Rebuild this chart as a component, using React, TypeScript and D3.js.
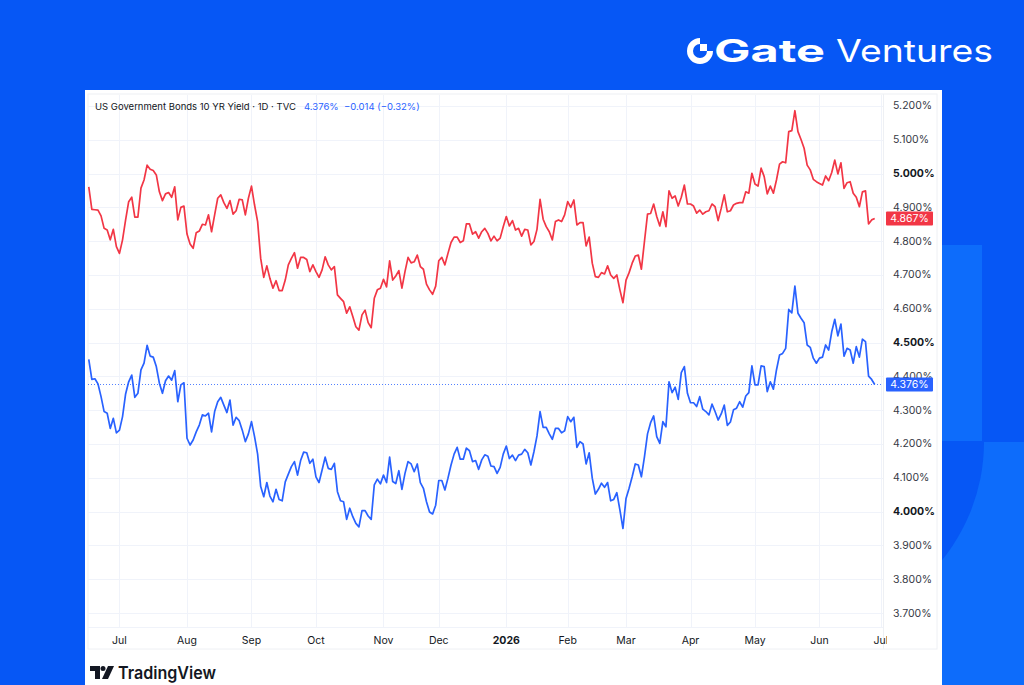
import { useEffect } from "react";
import * as d3 from "d3";

// daily closes, one value per trading session (first session ~ late Jun 2025)
const yield30y = [
  4.961, 4.894, 4.893, 4.892, 4.875, 4.838, 4.833, 4.804, 4.835, 4.784,
  4.764, 4.804, 4.863, 4.917, 4.93, 4.871, 4.871, 4.957, 4.981, 5.025,
  5.013, 5.009, 4.996, 4.946, 4.92, 4.94, 4.944, 4.93, 4.961, 4.863,
  4.9, 4.904, 4.821, 4.792, 4.779, 4.825, 4.83, 4.85, 4.848, 4.878,
  4.828, 4.878, 4.927, 4.937, 4.914, 4.897, 4.92, 4.88, 4.89, 4.924,
  4.922, 4.878, 4.927, 4.963, 4.907, 4.858, 4.749, 4.693, 4.727, 4.69,
  4.661, 4.683, 4.654, 4.654, 4.685, 4.73, 4.749, 4.766, 4.72, 4.752,
  4.752, 4.746, 4.71, 4.73, 4.71, 4.693, 4.715, 4.754, 4.73, 4.715,
  4.725, 4.641, 4.631, 4.621, 4.587, 4.606, 4.577, 4.547, 4.537, 4.582,
  4.596, 4.559, 4.544, 4.631, 4.656, 4.661, 4.687, 4.665, 4.742, 4.685,
  4.697, 4.713, 4.661, 4.71, 4.752, 4.736, 4.739, 4.759, 4.725, 4.717,
  4.673, 4.656, 4.643, 4.667, 4.742, 4.752, 4.73, 4.764, 4.796, 4.812,
  4.812, 4.796, 4.801, 4.851, 4.851, 4.821, 4.828, 4.809, 4.828, 4.838,
  4.823, 4.801, 4.815, 4.801, 4.809, 4.843, 4.873, 4.845, 4.861, 4.833,
  4.838, 4.815, 4.835, 4.833, 4.789, 4.799, 4.835, 4.924, 4.865, 4.843,
  4.828, 4.804, 4.858, 4.863, 4.858, 4.878, 4.917, 4.9, 4.922, 4.848,
  4.855, 4.855, 4.786, 4.812, 4.735, 4.695, 4.693, 4.707, 4.703, 4.727,
  4.7, 4.69, 4.7, 4.656, 4.618, 4.685, 4.707, 4.735, 4.756, 4.759,
  4.717, 4.799, 4.88, 4.882, 4.91, 4.873, 4.845, 4.887, 4.843, 4.949,
  4.927, 4.934, 4.904, 4.93, 4.966, 4.91, 4.91, 4.904, 4.883, 4.892,
  4.88, 4.887, 4.89, 4.91, 4.902, 4.861, 4.897, 4.937, 4.887, 4.89,
  4.907, 4.912, 4.914, 4.914, 4.946, 4.942, 5.001, 4.969, 4.963, 5.016,
  4.991, 4.94, 4.963, 4.942, 4.981, 5.028, 5.035, 5.032, 5.124, 5.127,
  5.186, 5.124, 5.101, 5.075, 5.025, 5.011, 4.983, 4.976, 4.971, 4.966,
  4.993, 4.979, 5.003, 5.04, 4.999, 5.032, 4.956, 4.973, 4.976, 4.942,
  4.93, 4.902, 4.946, 4.949, 4.851, 4.863, 4.867,
];

const yield10y = [
  4.45, 4.391, 4.393, 4.378, 4.34, 4.296, 4.291, 4.246, 4.276, 4.233,
  4.241, 4.281, 4.348, 4.384, 4.404, 4.338, 4.35, 4.419, 4.439, 4.492,
  4.46, 4.457, 4.429, 4.38, 4.35, 4.387, 4.401, 4.389, 4.417, 4.325,
  4.375, 4.381, 4.217, 4.197, 4.212, 4.236, 4.256, 4.286, 4.283, 4.291,
  4.236, 4.296, 4.325, 4.338, 4.315, 4.293, 4.33, 4.256, 4.279, 4.269,
  4.241, 4.207, 4.23, 4.266, 4.222, 4.17, 4.074, 4.044, 4.086, 4.046,
  4.029, 4.066, 4.036, 4.032, 4.088, 4.111, 4.133, 4.148, 4.108, 4.151,
  4.176, 4.174, 4.143, 4.155, 4.103, 4.086, 4.123, 4.161, 4.128, 4.125,
  4.143, 4.059, 4.032, 4.029, 3.977, 4.01, 3.985, 3.965, 3.955, 4.003,
  4.003, 3.987, 3.977, 4.079, 4.096, 4.082, 4.108, 4.086, 4.161, 4.089,
  4.083, 4.121, 4.066, 4.113, 4.148, 4.141, 4.118, 4.141, 4.086, 4.069,
  4.029, 3.999, 3.993, 4.019, 4.092, 4.092, 4.064, 4.099, 4.138, 4.17,
  4.19, 4.155, 4.155, 4.188, 4.18, 4.148, 4.151, 4.125, 4.153, 4.168,
  4.164, 4.135, 4.133, 4.113, 4.131, 4.17, 4.194, 4.157, 4.167, 4.151,
  4.167, 4.17, 4.184, 4.174, 4.138, 4.177, 4.224, 4.296, 4.249, 4.249,
  4.23, 4.214, 4.246, 4.246, 4.233, 4.239, 4.281, 4.266, 4.279, 4.19,
  4.207, 4.2, 4.141, 4.174, 4.099, 4.052, 4.066, 4.084, 4.072, 4.086,
  4.032, 4.036, 4.056, 4.005, 3.95, 4.039, 4.069, 4.103, 4.141, 4.138,
  4.103, 4.162, 4.23, 4.263, 4.283, 4.222, 4.202, 4.266, 4.251, 4.384,
  4.352, 4.368, 4.332, 4.411, 4.429, 4.35, 4.322, 4.322, 4.311, 4.34,
  4.303, 4.296, 4.286, 4.318, 4.296, 4.271, 4.289, 4.315, 4.255, 4.265,
  4.301, 4.306, 4.325, 4.309, 4.342, 4.352, 4.431, 4.375, 4.375, 4.431,
  4.429, 4.355, 4.384, 4.362, 4.419, 4.463, 4.468, 4.483, 4.598, 4.588,
  4.667, 4.587, 4.572, 4.559, 4.493, 4.486, 4.454, 4.439, 4.454, 4.457,
  4.493, 4.478, 4.532, 4.569, 4.52, 4.555, 4.46, 4.483, 4.478, 4.439,
  4.488, 4.457, 4.51, 4.503, 4.401, 4.391, 4.376,
];

// first session of each month (session index)
const monthTicks = [
  { label: "Jul", i: 10 },
  { label: "Aug", i: 32 },
  { label: "Sep", i: 53 },
  { label: "Oct", i: 74 },
  { label: "Nov", i: 96 },
  { label: "Dec", i: 114 },
  { label: "2026", i: 136, bold: true },
  { label: "Feb", i: 156 },
  { label: "Mar", i: 175 },
  { label: "Apr", i: 196 },
  { label: "May", i: 217 },
  { label: "Jun", i: 238 },
  { label: "Jul", i: 258 },
];

const yTicks = [3.7, 3.8, 3.9, 4.0, 4.1, 4.2, 4.3, 4.4, 4.5, 4.6, 4.7, 4.8, 4.9, 5.0, 5.1, 5.2];
const boldTicks = [4.0, 4.5, 5.0];

const title = "US Government Bonds 10 YR Yield · 1D · TVC";
const lastPrice = "4.376%";
const lastChange = "−0.014 (−0.32%)";

const RED = "#f23645";
const BLUE = "#2962ff";
const BG = "#0657f5";
const BG_LIGHT = "#0d6cfb";
const FONT = "Inter, 'Noto Sans', sans-serif";

export default function App() {
  useEffect(() => {
    document.body.style.margin = "0";
    document.body.style.overflow = "hidden";
  }, []);

  const plot = { left: 88, right: 883, top: 95, bottom: 627 };
  const x = d3.scaleLinear().domain([-0.25, 258.7]).range([plot.left, plot.right]);
  const y = d3.scaleLinear().domain([3.6586, 5.2325]).range([plot.bottom, plot.top]);

  const line = d3
    .line<number>()
    .x((_, i) => x(i))
    .y((d) => y(d));

  const last30 = yield30y[yield30y.length - 1];
  const last10 = yield10y[yield10y.length - 1];

  return (
    <svg width={1024} height={685} style={{ position: "absolute", left: 0, top: 0, display: "block" }}>
      <defs>
        <clipPath id="plotClip">
          <rect x={plot.left} y={plot.top} width={plot.right - plot.left} height={plot.bottom - plot.top} />
        </clipPath>
        <clipPath id="axisClip">
          <rect x={plot.left} y={plot.bottom} width={plot.right - plot.left + 4} height={30} />
        </clipPath>
        <clipPath id="decoClip">
          <rect x={900} y={442} width={124} height={243} />
        </clipPath>
      </defs>

      {/* background */}
      <rect width={1024} height={685} fill={BG} />
      <rect x={942} y={245} width={40} height={196} fill={BG_LIGHT} />
      <rect x={942} y={442} width={82} height={243} fill={BG_LIGHT} />
      <circle cx={797} cy={442} r={187} fill={BG} clipPath="url(#decoClip)" />

      {/* Gate Ventures logo */}
      <g fill="#fff">
        <path d="M713,51 A13,13 0 1 1 700,38 L700,44 A7,7 0 1 0 707,51 Z" />
        <rect x={700} y={44} width={7} height={7} />
        <text x={714} y={62} fontFamily={FONT} fontWeight={700} fontSize={31} textLength={111} lengthAdjust="spacingAndGlyphs">
          Gate
        </text>
        <text x={836} y={62} fontFamily={FONT} fontWeight={400} fontSize={31} textLength={157} lengthAdjust="spacingAndGlyphs">
          Ventures
        </text>
      </g>

      {/* panel */}
      <rect x={85} y={90} width={857} height={595} fill="#fff" />
      <rect x={plot.left} y={94} width={849} height={555} fill="none" stroke="#eef0f4" strokeWidth={1} />

      {/* grid */}
      <g stroke="#f0f3fa" strokeWidth={1}>
        {yTicks.map((t) => (
          <line key={t} x1={plot.left} x2={plot.right} y1={Math.round(y(t)) + 0.5} y2={Math.round(y(t)) + 0.5} />
        ))}
        {monthTicks.map((m) => (
          <line key={m.label + m.i} x1={Math.round(x(m.i)) + 0.5} x2={Math.round(x(m.i)) + 0.5} y1={plot.top} y2={plot.bottom} />
        ))}
      </g>
      <line x1={plot.right + 0.5} x2={plot.right + 0.5} y1={94} y2={649} stroke="#eef0f4" />
      <line x1={plot.left} x2={plot.right} y1={plot.bottom + 0.5} y2={plot.bottom + 0.5} stroke="#f0f3fa" />

      {/* last price line */}
      <line
        x1={plot.left}
        x2={plot.right}
        y1={y(last10)}
        y2={y(last10)}
        stroke={BLUE}
        strokeWidth={1}
        strokeDasharray="1 2"
        opacity={0.8}
      />

      {/* series */}
      <g clipPath="url(#plotClip)" fill="none" strokeWidth={1.7} strokeLinejoin="round">
        <path d={line(yield30y) ?? ""} stroke={RED} />
        <path d={line(yield10y) ?? ""} stroke={BLUE} />
      </g>

      {/* title */}
      <g fontFamily={FONT} fontSize={9.5} dominantBaseline="central">
        <text x={95} y={106} fill="#131722">
          {title}
        </text>
        <text x={304} y={106} fill={BLUE}>
          {lastPrice}
        </text>
        <text x={344} y={106} fill={BLUE}>
          {lastChange}
        </text>
      </g>

      {/* y axis */}
      <g fontFamily={FONT} fontSize={10.5} dominantBaseline="central">
        {yTicks.map((t) => (
          <text
            key={t}
            x={893}
            y={y(t)}
            fill={boldTicks.includes(t) ? "#131722" : "#363a45"}
            fontWeight={boldTicks.includes(t) ? 700 : 400}
          >
            {t.toFixed(3)}%
          </text>
        ))}
      </g>

      {/* last value badges */}
      {[
        { v: last30, c: RED },
        { v: last10, c: BLUE },
      ].map((b) => (
        <g key={b.c}>
          <rect x={886} y={y(b.v) - 7} width={47} height={14} fill={b.c} rx={1} />
          <text
            x={909.5}
            y={y(b.v)}
            fill="#fff"
            fontFamily={FONT}
            fontSize={10.5}
            textAnchor="middle"
            dominantBaseline="central"
          >
            {b.v.toFixed(3)}%
          </text>
        </g>
      ))}

      {/* x axis */}
      <g clipPath="url(#axisClip)" fontFamily={FONT} fontSize={10.5} textAnchor="middle" dominantBaseline="central">
        {monthTicks.map((m) => (
          <text key={m.label + m.i} x={x(m.i)} y={640} fill="#131722" fontWeight={m.bold ? 700 : 400}>
            {m.label}
          </text>
        ))}
      </g>

      {/* TradingView logo */}
      <g fill="#131722">
        <path d="M90,666 L100,666 L100,679 L95,679 L95,671 L90,671 Z" />
        <circle cx={103} cy={668.5} r={2.5} />
        <path d="M108,666 L114,666 L108,679 L102,679 Z" />
        <text x={118} y={679} fontFamily={FONT} fontWeight={600} fontSize={17} textLength={98} lengthAdjust="spacingAndGlyphs">
          TradingView
        </text>
      </g>
    </svg>
  );
}
